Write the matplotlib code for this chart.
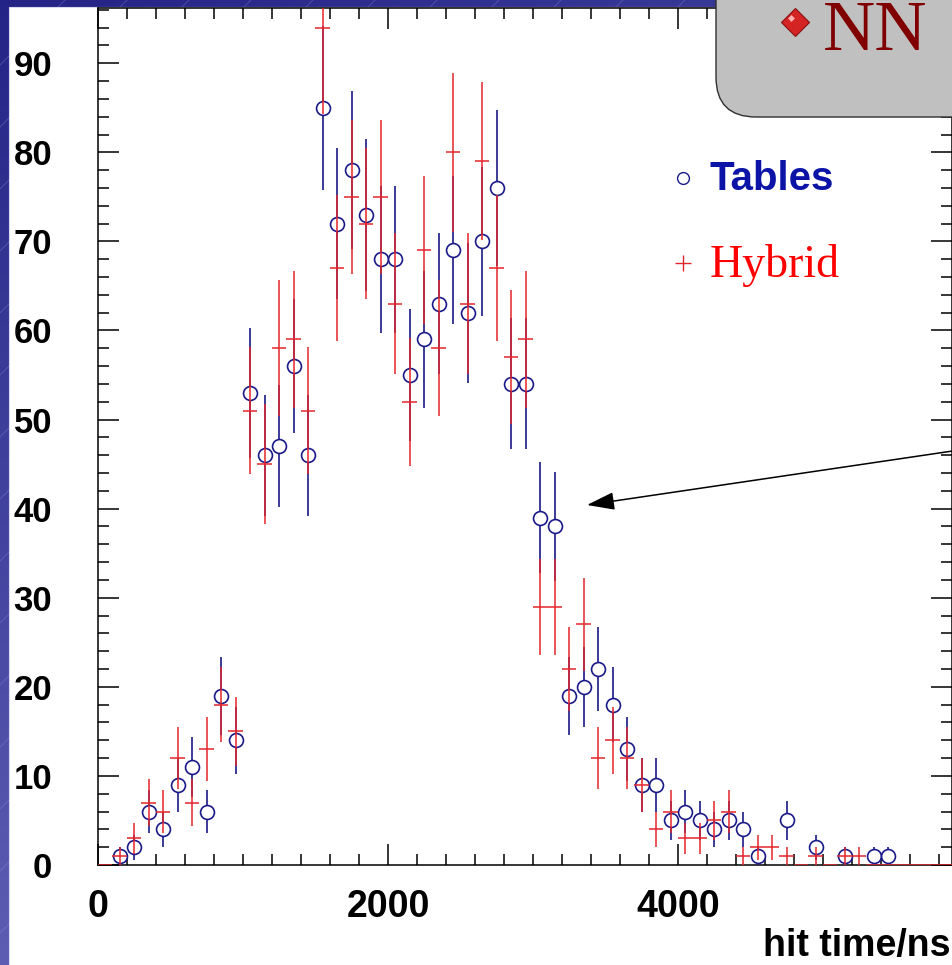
import numpy as np
import matplotlib
matplotlib.use("Agg")
import matplotlib.pyplot as plt
from matplotlib.patches import Rectangle, FancyBboxPatch
from matplotlib.ticker import MultipleLocator

# hit-time histograms, 100 ns bins starting at 0
bin_width = 100
tables = [0, 1, 2, 6, 4, 9, 11, 6, 19, 14,
          53, 46, 47, 56, 46, 85, 72, 78, 73, 68,
          68, 55, 59, 63, 69, 62, 70, 76, 54, 54,
          39, 38, 19, 20, 22, 18, 13, 9, 9, 5,
          6, 5, 4, 5, 4, 1, 0, 5, 0, 2,
          0, 1, 0, 1, 1, 0, 0, 0, 0]
hybrid = [0, 1, 3, 7, 6, 12, 7, 13, 18, 15,
          51, 45, 58, 59, 51, 94, 67, 75, 72, 75,
          63, 52, 69, 58, 80, 63, 79, 67, 57, 59,
          29, 29, 22, 27, 12, 14, 12, 9, 4, 6,
          3, 3, 5, 6, 1, 2, 2, 1, 0, 1,
          0, 1, 1, 0, 0, 0, 0, 0, 0]
x_ticks = [0, 2000, 4000]
x_label = "hit time/ns"
series_names = ["Tables", "Hybrid"]
box_text = "NN"

W, H = 953, 965
BLUE = "#1a1a88"
RED = "#e4262a"

tables = np.array(tables, dtype=float)
hybrid = np.array(hybrid, dtype=float)
centers = bin_width * (np.arange(len(tables)) + 0.5)

fig = plt.figure(figsize=(W / 100, H / 100), dpi=100)

# slide background: blue gradient with faint diagonal streaks
bg = fig.add_axes([0, 0, 1, 1])
bg.set_xlim(0, W)
bg.set_ylim(H, 0)
bg.axis("off")
yy, xx = np.mgrid[0:H:4, 0:W:4]
t = np.clip(0.75 * yy / H + 0.35 * xx / W, 0, 1)
c0 = np.array([0.14, 0.14, 0.53])
c1 = np.array([0.44, 0.44, 0.76])
grad = c0 + t[..., None] * (c1 - c0)
bg.imshow(grad, extent=(0, W, H, 0), aspect="auto", interpolation="bilinear")
for c in np.arange(-900, 1900, 62):
    bg.plot([c, c + H], [H, 0], color="#9a9ad8", lw=0.6, alpha=0.35)
bg.add_patch(Rectangle((9, 7), W, H, facecolor="white", edgecolor="#d8d8ee",
                       lw=0.8, zorder=4))
bg.set_xlim(0, W)
bg.set_ylim(H, 0)

# histogram frame
ax = fig.add_axes([98 / W, (H - 865) / H, (952 - 98) / W, (865 - 8) / H])
ax.set_xlim(0, 5890)
ax.set_ylim(0, 96.2)

sel = tables > 0
ax.errorbar(centers[sel], tables[sel], yerr=np.sqrt(tables[sel]), fmt="o",
            ms=10, mfc="white", mec=BLUE, mew=1.2, ecolor=BLUE,
            elinewidth=1.2, capsize=0, zorder=2.6)
ax.errorbar(centers, hybrid, xerr=bin_width / 2, yerr=np.sqrt(hybrid),
            fmt="none", ecolor=RED, elinewidth=1.1, capsize=0, zorder=3)

ax.set_xticks(x_ticks)
ax.xaxis.set_minor_locator(MultipleLocator(200))
ax.yaxis.set_major_locator(MultipleLocator(10))
ax.yaxis.set_minor_locator(MultipleLocator(2))
ax.tick_params(which="both", direction="in", top=True, right=True,
               width=1.1, color="black")
ax.tick_params(which="major", length=15)
ax.tick_params(which="minor", length=8)
ax.tick_params(axis="y", which="major", pad=33)
ax.tick_params(axis="x", which="major", pad=17)
for lab in ax.get_yticklabels():
    lab.set_fontfamily("Liberation Sans")
    lab.set_fontweight("bold")
    lab.set_fontsize(25)
for lab in ax.get_xticklabels():
    lab.set_fontfamily("Liberation Sans")
    lab.set_fontweight("bold")
    lab.set_fontsize(27)
for sp in ax.spines.values():
    sp.set_linewidth(1.1)

# legend entries
ax.plot([0.685], [0.802], "o", transform=ax.transAxes, ms=8.5, mfc="white",
        mec=BLUE, mew=1.0, clip_on=False)
ax.text(0.716, 0.800, series_names[0], transform=ax.transAxes, color="#0c14a8",
        fontsize=29, fontweight="bold", family="Liberation Sans", va="center")
ax.plot([0.685], [0.702], "+", transform=ax.transAxes, ms=12, mec=RED,
        mew=1.0, clip_on=False)
ax.text(0.716, 0.700, series_names[1], transform=ax.transAxes, color="red",
        fontsize=33, family="Liberation Serif", va="center")

fig.text(951 / W, 1 - 946 / H, x_label, ha="right", va="center",
         fontsize=27, fontweight="bold", family="Liberation Sans")

# overlay: title box and arrow
ov = fig.add_axes([0, 0, 1, 1], zorder=5)
ov.set_xlim(0, W)
ov.set_ylim(H, 0)
ov.axis("off")
ov.patch.set_alpha(0)
ov.add_patch(FancyBboxPatch((716, -80), 400, 197,
                            boxstyle="round,pad=0,rounding_size=40",
                            facecolor="#c0c0c0", edgecolor="#303030", lw=1.0))
ov.plot([795], [22], "D", ms=14, mfc="#d42424", mec="#8a1010", mew=0.8)
ov.plot([791], [18], "D", ms=3.5, mfc="#ffb0b0", mec="none")
ov.text(823, 50, box_text, color="#800000", fontsize=52,
        family="Liberation Serif", va="baseline", ha="left")
ov.annotate("", xy=(587, 505), xytext=(1000, 444),
            arrowprops=dict(arrowstyle="-|>,head_length=1.7,head_width=0.55",
                            color="black", lw=1.1, shrinkA=0, shrinkB=0))

fig.savefig("out.png", dpi=100)
